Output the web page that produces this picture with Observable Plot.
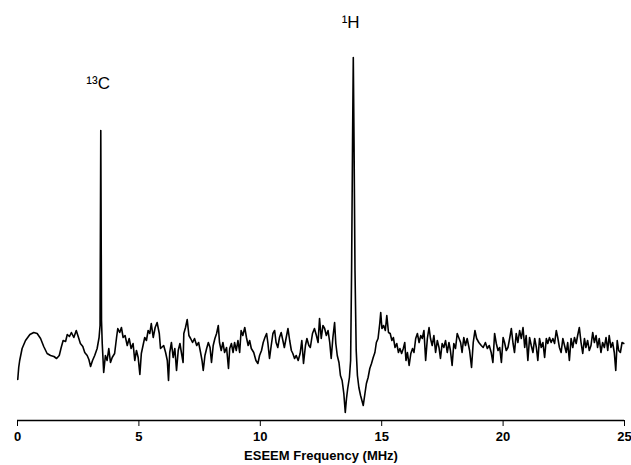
<!DOCTYPE html>
<html>
<head>
<meta charset="utf-8">
<script src="https://cdn.jsdelivr.net/npm/d3@7"></script>
<script src="https://cdn.jsdelivr.net/npm/@observablehq/plot@0.6"></script>
<style>
  html, body { margin: 0; padding: 0; background: #fff; }
</style>
</head>
<body>
<div id="chart"></div>
<script>
// ESEEM spectrum (amplitude in arbitrary units above the axis)
const freq = [
  0.01,0.05,0.09,0.19,0.33,0.51,0.67,0.81,0.95,1.08,1.22,1.36,1.50,1.61,1.72,1.80,1.88,1.98,2.05,2.14,
  2.22,2.32,2.42,2.50,2.59,2.69,2.77,2.87,2.94,3.01,3.09,3.18,3.28,3.36,3.40,3.43,3.46,3.49,3.55,3.62,
  3.69,3.76,3.83,3.90,4.00,4.08,4.13,4.21,4.28,4.35,4.43,4.52,4.60,4.68,4.76,4.83,4.90,4.97,5.04,5.10,
  5.17,5.24,5.31,5.38,5.45,5.51,5.59,5.67,5.75,5.84,5.89,6.02,6.10,6.17,6.22,6.27,6.34,6.41,6.48,6.55,
  6.62,6.69,6.75,6.82,6.85,6.92,6.99,7.06,7.13,7.21,7.29,7.38,7.46,7.54,7.60,7.65,7.72,7.79,7.86,7.93,
  7.99,8.06,8.13,8.20,8.27,8.32,8.39,8.46,8.53,8.61,8.69,8.74,8.81,8.88,8.94,9.01,9.08,9.15,9.21,9.28,
  9.36,9.43,9.50,9.56,9.63,9.73,9.82,9.90,9.97,10.05,10.12,10.19,10.26,10.31,10.38,10.45,10.52,10.59,10.65,10.72,
  10.79,10.86,10.93,10.99,11.06,11.14,11.21,11.28,11.34,11.41,11.48,11.56,11.64,11.71,11.78,11.86,11.92,12.00,12.06,12.15,
  12.23,12.31,12.38,12.44,12.51,12.58,12.65,12.72,12.79,12.86,12.92,12.99,13.06,13.11,13.17,13.24,13.30,13.37,13.44,13.50,
  13.55,13.60,13.67,13.72,13.76,13.80,13.83,13.86,13.90,13.95,14.00,14.06,14.13,14.24,14.31,14.37,14.44,14.51,14.58,14.65,
  14.72,14.78,14.85,14.92,14.96,15.01,15.08,15.15,15.21,15.28,15.35,15.42,15.48,15.55,15.62,15.69,15.75,15.82,15.89,15.95,
  16.00,16.06,16.13,16.20,16.27,16.33,16.40,16.47,16.54,16.61,16.67,16.74,16.81,16.88,16.95,17.01,17.08,17.15,17.22,17.29,
  17.36,17.42,17.49,17.56,17.63,17.70,17.77,17.83,17.90,17.97,18.04,18.11,18.25,18.31,18.38,18.45,18.52,18.62,18.70,18.77,
  18.84,18.91,19.00,19.10,19.18,19.27,19.35,19.43,19.51,19.58,19.65,19.72,19.79,19.86,19.93,20.00,20.06,20.13,20.20,20.27,
  20.34,20.41,20.47,20.54,20.61,20.68,20.75,20.82,20.89,20.95,21.02,21.09,21.16,21.23,21.30,21.37,21.43,21.50,21.57,21.64,
  21.71,21.78,21.84,21.91,21.98,22.05,22.12,22.19,22.25,22.32,22.39,22.46,22.53,22.60,22.66,22.73,22.80,22.87,22.94,23.01,
  23.07,23.14,23.21,23.28,23.35,23.41,23.48,23.55,23.62,23.69,23.76,23.83,23.89,23.96,24.03,24.10,24.17,24.24,24.31,24.37,
  24.44,24.51,24.58,24.64,24.70,24.76,24.83,24.90,24.97
];
const signal = [
  41,53,60,72,80,86,88,87,82,74,67,65,64,62,65,73,80,79,86,84,
  88,83,90,84,77,74,68,65,61,54,60,65,72,83,95,290,100,77,48,65,
  60,72,58,63,67,83,92,88,93,83,85,75,82,72,77,60,70,63,46,67,
  75,83,80,90,87,97,83,93,98,87,72,75,68,60,40,68,78,63,72,50,
  70,77,68,58,87,93,101,85,82,78,82,75,78,68,60,50,65,72,78,73,
  58,75,82,87,95,78,70,78,68,73,52,72,77,68,78,70,80,68,90,85,
  93,83,75,80,72,68,60,57,65,70,78,83,87,78,62,75,87,90,78,73,
  83,88,80,73,82,92,80,70,67,62,65,60,67,80,57,75,82,75,73,87,
  92,85,78,102,82,95,92,85,90,78,62,83,98,77,65,58,45,40,27,8,
  22,32,43,60,150,280,363,280,150,70,45,33,25,15,27,37,43,52,57,63,
  68,78,82,97,108,92,95,90,105,88,87,80,83,73,77,68,72,67,72,78,
  60,68,55,67,72,68,82,87,78,85,82,90,60,82,93,82,75,85,68,80,
  73,62,77,73,80,68,78,70,55,77,72,87,78,68,83,75,82,70,53,78,
  90,82,78,75,73,78,72,75,68,58,87,77,70,73,58,83,78,70,73,82,
  92,77,68,87,78,90,82,93,73,85,60,83,75,68,82,73,60,82,73,78,
  63,82,77,83,78,82,77,90,83,73,68,82,75,68,78,60,82,73,83,77,
  85,93,78,67,82,73,80,70,75,88,78,85,73,82,68,78,73,83,70,85,
  73,78,68,50,80,70,68,78,77
];
const xTicks = [0, 5, 10, 15, 20, 25];
const xTitle = "ESEEM Frequency (MHz)";
const peakLabels = ["¹³C", "¹H"];
const peakLabelX = [3.32, 13.72];
const peakLabelY = [337, 398];

const spectrum = freq.map((f, i) => ({f, a: signal[i]}));
const annotations = peakLabels.map((t, i) => ({t, x: peakLabelX[i], y: peakLabelY[i]}));

const hasAxisMark = typeof Plot.axisX === "function";
const axisMarks = hasAxisMark
  ? [Plot.axisX({ticks: xTicks, tickSize: 6, tickPadding: 5, label: null, fontWeight: "bold", fontSize: 13, stroke: "#000", fill: "#000"})]
  : [];

const chart = Plot.plot({
  width: 631,
  height: 465,
  marginLeft: 17,
  marginRight: 7,
  marginTop: 20,
  marginBottom: 45,
  style: {fontFamily: "'Liberation Sans', Arial, sans-serif", fontSize: "13px", color: "#000", background: "#fff"},
  x: hasAxisMark
    ? {domain: [0, 25]}
    : {domain: [0, 25], ticks: xTicks, tickSize: 6, tickPadding: 5, label: null},
  y: {domain: [0, 400], axis: null},
  marks: [
    ...axisMarks,
    Plot.ruleY([0], {stroke: "#000", strokeWidth: 1.5}),
    Plot.line(spectrum, {x: "f", y: "a", stroke: "#000", strokeWidth: 1.6}),
    Plot.text(annotations, {x: "x", y: "y", text: "t", fontSize: 17, fill: "#000"}),
    Plot.text([xTitle], {frameAnchor: "bottom", dy: 39, text: d => d, fontSize: 13, fontWeight: "bold", fill: "#000"})
  ]
});
// make sure tick labels are bold whichever axis renderer is used
d3.select(chart).selectAll('[aria-label="x-axis tick label"] text, g[aria-label="x-axis"] text')
  .attr("font-weight", "bold").style("font-weight", "bold");
document.getElementById("chart").appendChild(chart);
</script>
</body>
</html>
